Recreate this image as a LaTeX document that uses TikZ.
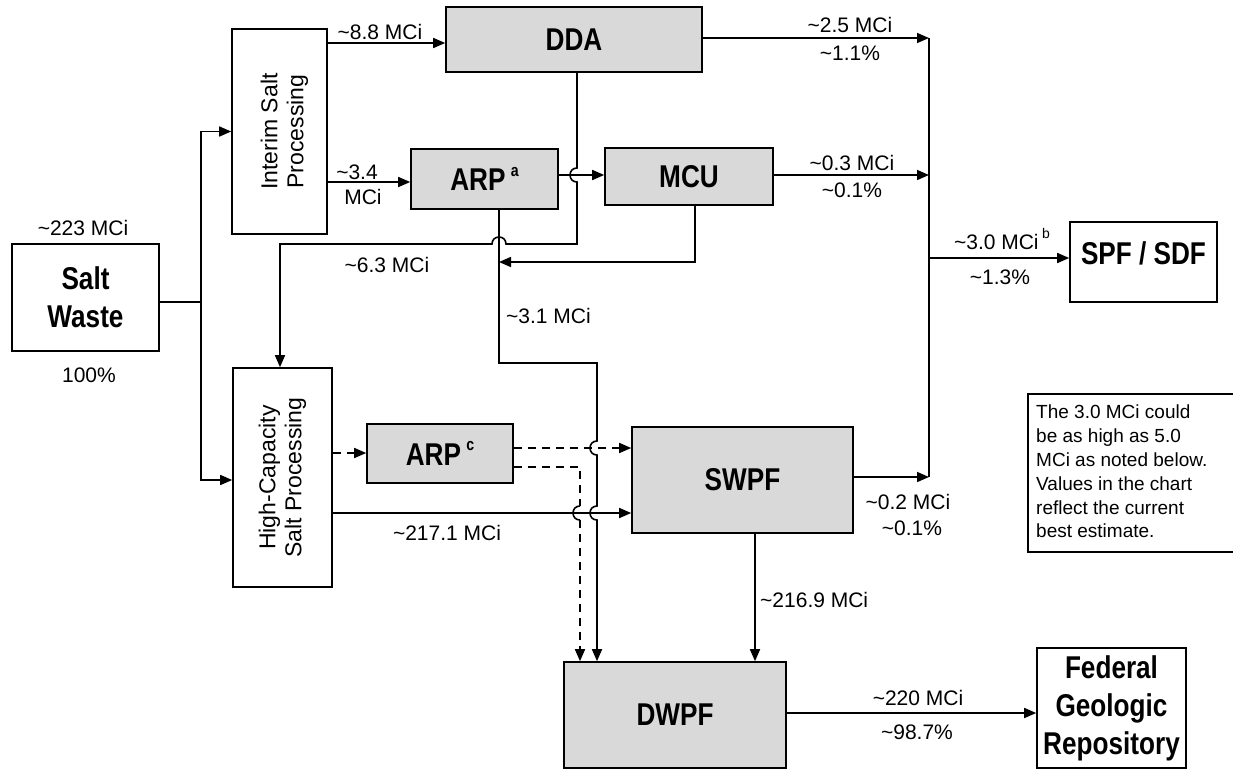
\documentclass[tikz,border=0pt]{standalone}
\usepackage{fontspec}
\setmainfont{Liberation Sans}
\newfontfamily\condfont[FakeStretch=0.83]{Liberation Sans}
\usetikzlibrary{arrows.meta}
\newcommand\mytld{\textasciitilde}
\begin{document}
\begin{tikzpicture}[x=1pt,y=-1pt,
  box/.style={draw, line width=1.6pt, inner sep=0pt},
  gbox/.style={box, fill=black!15},
  lab/.style={font=\fontsize{21}{25}\selectfont, inner sep=0pt, align=center},
  big/.style={font=\condfont\bfseries\fontsize{31.5}{38}\selectfont, align=center},
  rot/.style={rotate=90, font=\fontsize{23}{26}\selectfont, align=center, inner sep=0pt},
  ln/.style={line width=1.6pt},
  arr/.style={line width=1.6pt, -{Triangle[length=12pt,width=10pt]}},
  dsh/.style={dash pattern=on 8pt off 6pt}
]
\useasboundingbox (0,0) rectangle (1233,769);
\fill[white] (0,0) rectangle (1233,769);

% boxes
\node[box, big, minimum width=147pt, minimum height=107pt] (sw) at (85.5,297.5) {Salt\\Waste};
\node[box, minimum width=95pt, minimum height=205pt] (isp) at (279.5,131.5) {};
\node[rot, yshift=-5pt] (ispt) at (isp.center) {Interim Salt\\Processing};
\node[box, minimum width=99pt, minimum height=219pt] (hc) at (282.5,477.5) {};
\node[rot] (hct) at (hc.center) {High-Capacity\\Salt Processing};
\node[gbox, big, minimum width=256pt, minimum height=65pt] (dda) at (574,39.5) {DDA};
\node[gbox, big, minimum width=147pt, minimum height=60pt] (arpa) at (484.5,179) {ARP\,\raisebox{0.45em}{\fontsize{17}{17}\selectfont a}};
\node[gbox, big, minimum width=168pt, minimum height=57pt] (mcu) at (689,176.5) {MCU};
\node[gbox, big, minimum width=146pt, minimum height=59pt] (arpc) at (440,453.5) {ARP\,\raisebox{0.45em}{\fontsize{17}{17}\selectfont c}};
\node[gbox, big, minimum width=221pt, minimum height=106pt] (swpf) at (742.5,480) {SWPF};
\node[gbox, big, minimum width=222pt, minimum height=106pt] (dwpf) at (675,715) {DWPF};
\node[box, minimum width=149pt, minimum height=120pt] (fgr) at (1111.5,708) {};
\node[big] (fgrt) at (fgr.center) {Federal\\Geologic\\Repository};
\node[box, minimum width=147pt, minimum height=80pt] (spf) at (1143.5,262) {};
\node[big] (spft) at (1143.5,253) {SPF / SDF};

% note box
\draw[line width=1.4pt] (1028,394) rectangle (1260,552);
\node[anchor=north west, inner sep=0pt, align=left, font=\fontsize{19}{23.8}\selectfont] (note) at (1036,405)
  {The 3.0 MCi could\\be as high as 5.0\\MCi as noted below.\\Values in the chart\\reflect the current\\best estimate.};

% bus coordinates
\coordinate (jA) at (201,302);
\coordinate (b1) at (929,38);
\coordinate (b2) at (929,477);
\coordinate (b3) at (929,258);
\coordinate (h1) at (580,506);
\coordinate (h2) at (580,520);

% connectors
\draw[ln] (sw.east |- jA) -- (jA);
\draw[arr] (jA) |- (isp.west);
\draw[arr] (jA) |- (hc.west |- 0,480);
\draw[arr] (isp.east |- 0,43) -- (dda.west |- 0,43);
\draw[arr] (isp.east |- 0,182) -- (arpa.west |- 0,182);
\draw[arr] (arpa.east |- 0,175) -- (mcu.west |- 0,175);
\draw[arr] ([xshift=3pt]dda.south) -- (577,168) .. controls (567.7,168) and (567.7,182) .. (577,182)
  -- (577,244) -- (506,244) .. controls (506,234.7) and (492,234.7) .. (492,244)
  -- (280,244) -- (hc.north -| 280,0);
\draw[arr] ([xshift=6pt]mcu.south) -- (695,262) -- (499,262);
\draw[arr] ([xshift=14.5pt]arpa.south) -- (499,363) -- (597,363) -- (597,441)
  .. controls (587.7,441) and (587.7,455) .. (597,455) -- (597,506)
  .. controls (587.7,506) and (587.7,520) .. (597,520) -- (dwpf.north -| 597,0);
\draw[arr,dsh] (hc.east |- 0,453) -- (arpc.west |- 0,453);
\draw[arr,dsh] (arpc.east |- 0,448) -- (swpf.west |- 0,448);
\draw[ln,dsh] (arpc.east |- 0,467) -- (580,467) -- (h1);
\draw[ln] (h1) .. controls (570.7,506) and (570.7,520) .. (h2);
\draw[arr,dsh] (h2) -- (dwpf.north -| h2);
\draw[arr] (hc.east |- 0,513) -- (swpf.west |- 0,513);
\draw[arr] (swpf.east |- b2) -- (b2);
\draw[arr] (dda.east |- b1) -- (b1);
\draw[arr] (mcu.east |- 0,175) -- (929,175);
\draw[ln] (b1) -- (b2);
\draw[arr] (b3) -- (spf.west |- b3);
\draw[arr] (swpf.south -| 755,0) -- (dwpf.north -| 755,0);
\draw[arr] (dwpf.east |- 0,713) -- (fgr.west |- 0,713);

% labels
\node[lab] (l1) at (83,228) {\mytld223 MCi};
\node[lab] (l2) at (89,375) {100\%};
\node[lab] (l3) at (380,32) {\mytld8.8 MCi};
\node[lab] (l4) at (357,172) {\mytld3.4};
\node[lab] (l5) at (363,197) {MCi};
\node[lab] (l6) at (387,265) {\mytld6.3 MCi};
\node[lab, anchor=west] (l7) at (506,316) {\mytld3.1 MCi};
\node[lab] (l8) at (447,533) {\mytld217.1 MCi};
\node[lab] (l9) at (850,25) {\mytld2.5 MCi};
\node[lab] (l10) at (850,53) {\mytld1.1\%};
\node[lab] (l11) at (852,163) {\mytld0.3 MCi};
\node[lab] (l12) at (852,190) {\mytld0.1\%};
\node[lab] (l13) at (1002,239) {\mytld3.0 MCi\,\raisebox{0.5em}{\fontsize{14}{14}\selectfont b}};
\node[lab] (l14) at (1000,277) {\mytld1.3\%};
\node[lab] (l15) at (908,502) {\mytld0.2 MCi};
\node[lab] (l16) at (912,528) {\mytld0.1\%};
\node[lab, anchor=west] (l17) at (760,600) {\mytld216.9 MCi};
\node[lab] (l18) at (918,698) {\mytld220 MCi};
\node[lab] (l19) at (917,732) {\mytld98.7\%};
\end{tikzpicture}
\end{document}
